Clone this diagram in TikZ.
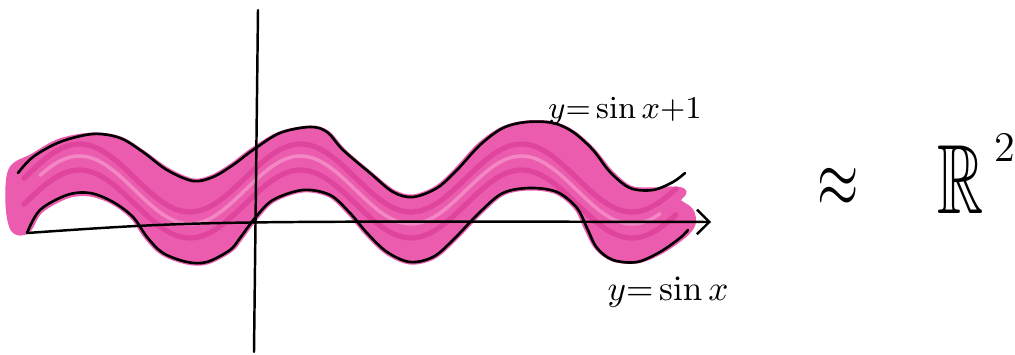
\documentclass[tikz,border=0pt]{standalone}
\usepackage{amssymb}
\usepackage{graphicx}
\usetikzlibrary{arrows.meta, positioning}
\definecolor{bandpink}{RGB}{236, 92, 174}
\definecolor{bandstreak}{RGB}{212, 48, 140}
\definecolor{bandlight}{RGB}{247, 165, 212}
\tikzset{
    sketch/.style={black, line width=0.75pt, line cap=round, line join=round},
    axis/.style={black, line width=0.7pt, line cap=round},
    band/.style={fill=bandpink, draw=bandpink, line width=2pt, line join=round},
    streak/.style={bandstreak, line width=1.5pt, opacity=0.5, line cap=round},
    curvelabel/.style={font=\small, inner sep=1pt},
    bigsym/.style={inner sep=0pt}
}
% middle line of the band, for the pencil streaks
\newcommand{\midcurve}[1]{192-34*sin(((#1)-190)/221*360-90)}
\begin{document}
\begin{tikzpicture}[x=0.01cm, y=-0.01cm]
\useasboundingbox (0,0) rectangle (1015,355);
% the band between the two curves
\path[band] plot[smooth cycle, tension=0.55] coordinates {
    (12,170) (33,157) (60,142) (93,136) (120,140) (143,154) (167,171) (193,182)
    (213,178) (233,166) (253,151) (280,135) (310,129) (327,134) (343,152)
    (370,175) (393,193) (413,198) (437,189) (457,171) (480,146) (503,130)
    (527,124) (553,125) (573,134) (593,152) (610,173) (630,189) (653,191)
    (671,190) (683,192) (677,201) (690,211) (692,224) (682,236)
    (660,251) (637,260) (613,258) (597,246) (587,227) (577,207) (557,191)
    (530,187) (503,192) (480,211) (453,239) (433,256) (410,261) (387,251)
    (367,232) (350,212) (330,194) (303,189) (273,199) (255,217) (240,237)
    (230,249) (207,261) (187,261) (163,252) (147,236) (133,216) (113,201)
    (90,193) (67,195) (40,210) (27,230) (14,229) (9,204)};
\foreach \off in {-14, 12}
    \draw[streak] plot[domain=24:676, samples=70, smooth] (\x, {\midcurve{\x}+\off});
\draw[bandlight, line width=1pt, opacity=0.6, line cap=round]
    plot[domain=40:660, samples=70, smooth] (\x, {\midcurve{\x}-2});

% axes
\coordinate (xstart) at (27,233);
\coordinate (xbend) at (200,221);
\coordinate (xend) at (711,222);
\coordinate (ytop) at (258,10);
\coordinate (ybot) at (254,352);
\draw[axis, -{Straight Barb[length=3.5pt]}] (xstart) .. controls (xbend) .. (xend);
\draw[axis] (ytop) -- (ybot);

% y = sin x + 1
\draw[sketch] plot[smooth, tension=0.55] coordinates {
    (18,173) (33,157) (60,142) (93,134) (120,138) (143,152) (167,170) (193,181)
    (213,177) (233,165) (253,150) (280,133) (310,127) (327,132) (343,150)
    (370,173) (393,192) (413,197) (437,188) (457,170) (480,145) (503,128)
    (527,122) (553,123) (573,132) (593,150) (610,172) (630,188) (653,190)
    (673,182) (685,173)};
% y = sin x
\draw[sketch] plot[smooth, tension=0.55] coordinates {
    (27,233) (40,210) (67,195) (90,193) (113,202) (133,217) (147,237) (163,253)
    (187,262) (207,262) (230,250) (240,238) (255,218) (273,200) (303,190)
    (330,195) (350,213) (367,233) (387,252) (410,262) (433,257) (453,240)
    (480,212) (503,193) (530,188) (557,192) (577,208) (587,228) (597,248)
    (613,260) (637,262) (660,252) (680,238) (688,230)};

\node[curvelabel] (uplabel) at (625,111) {$y{=}\sin x{+}1$};
\node[curvelabel, font=\normalsize] (lowlabel) at (668,292) {$y{=}\sin x$};

\node[bigsym, font=\Large] (approx) at (838,188) {\scalebox{1.05}[1.6]{$\approx$}};
\node[bigsym, font=\fontsize{28}{30}\selectfont, anchor=west] (plane) at (937,180)
    {\scalebox{0.65}[1]{$\mathbb{R}$}};
\node[bigsym, font=\large] (power) at (1005,147) {2};
\end{tikzpicture}
\end{document}
